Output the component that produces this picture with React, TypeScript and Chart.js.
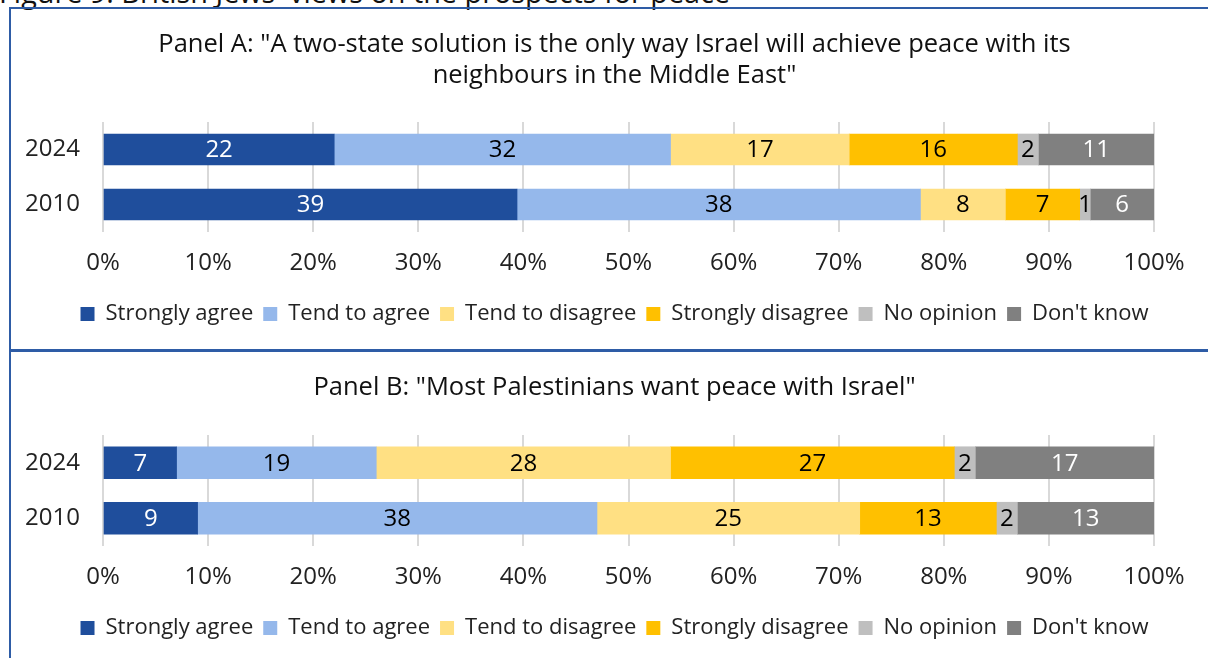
import React, { useEffect, useRef } from 'react';
import { Chart, registerables } from 'chart.js';

Chart.register(...registerables);

// ---------- data ----------
const years = ['2024', '2010'];
const seriesNames = ['Strongly agree', 'Tend to agree', 'Tend to disagree', 'Strongly disagree', 'No opinion', "Don't know"];
const seriesColors = ['#1F4E9C', '#95B8EB', '#FFE083', '#FFC000', '#BFBFBF', '#808080'];
const valueLabelColors = ['#FFFFFF', '#000000', '#000000', '#000000', '#000000', '#FFFFFF'];

const panelA2024 = [22, 32, 17, 16, 2, 11];
const panelA2010 = [39, 38, 8, 7, 1, 6];
const panelB2024 = [7, 19, 28, 27, 2, 17];
const panelB2010 = [9, 38, 25, 13, 2, 13];

const xTickLabels = ['0%', '10%', '20%', '30%', '40%', '50%', '60%', '70%', '80%', '90%', '100%'];

const figureTitle = "Figure 9: British Jews' views on the prospects for peace";
const panelATitle = [
  'Panel A: "A two-state solution is the only way Israel will achieve peace with its',
  'neighbours in the Middle East"',
];
const panelBTitle = ['Panel B: "Most Palestinians want peace with Israel"'];

// ---------- styling ----------
const FONT = '"Open Sans", "Noto Sans", sans-serif';
const BORDER = '#2E5CA6';

const valueLabelPlugin = {
  id: 'valueLabels',
  afterDatasetsDraw(chart: any) {
    const ctx = chart.ctx;
    ctx.save();
    ctx.font = `24px ${FONT}`;
    ctx.textAlign = 'center';
    ctx.textBaseline = 'middle';
    chart.data.datasets.forEach((ds: any, i: number) => {
      const meta = chart.getDatasetMeta(i);
      meta.data.forEach((bar: any, j: number) => {
        const p = bar.getCenterPoint();
        ctx.fillStyle = ds.valueLabelColor;
        ctx.fillText(String(ds.rawValues[j]), p.x, p.y + 1);
      });
    });
    ctx.restore();
  },
};

function buildData(rows: number[][]) {
  const totals = rows.map((r) => r.reduce((a, b) => a + b, 0));
  return {
    labels: years,
    datasets: seriesNames.map((name, i) => ({
      label: name,
      data: rows.map((r, k) => (r[i] / totals[k]) * 100),
      rawValues: rows.map((r) => r[i]),
      valueLabelColor: valueLabelColors[i],
      backgroundColor: seriesColors[i],
      borderWidth: 0,
    })),
  };
}

type PanelProps = {
  rows: number[][];
  title: string[];
  width: number;
  height: number;
  titlePadTop: number;
  titlePadBottom: number;
  bottomPad: number;
  barThickness: number;
};

function Panel(props: PanelProps) {
  const ref = useRef<HTMLCanvasElement | null>(null);
  useEffect(() => {
    if (!ref.current) return;
    const chart = new Chart(ref.current, {
      type: 'bar',
      data: buildData(props.rows) as any,
      plugins: [valueLabelPlugin],
      options: {
        indexAxis: 'y',
        animation: false,
        responsive: false,
        maintainAspectRatio: false,
        datasets: { bar: { barThickness: props.barThickness } },
        layout: { padding: { left: 10, right: 0, top: 0, bottom: props.bottomPad } },
        plugins: {
          tooltip: { enabled: false },
          title: {
            display: true,
            text: props.title,
            color: '#111111',
            font: { family: FONT, size: 25.5, weight: 'normal', lineHeight: 31 / 25.5 },
            padding: { top: props.titlePadTop, bottom: props.titlePadBottom },
          },
          legend: {
            position: 'bottom',
            labels: {
              boxWidth: 14,
              boxHeight: 14,
              padding: 10,
              color: '#222222',
              font: { family: FONT, size: 22 },
            },
          },
        },
        scales: {
          x: {
            type: 'linear',
            stacked: true,
            min: 0,
            max: 100,
            grid: { color: '#D9D9D9', lineWidth: 2, drawTicks: false },
            border: { display: false },
            ticks: {
              stepSize: 10,
              padding: 17,
              color: '#222222',
              font: { family: FONT, size: 24 },
              callback: (_v: any, idx: number) => xTickLabels[idx],
            },
            afterFit: (s: any) => {
              s.height = 61;
            },
          },
          y: {
            type: 'category',
            stacked: true,
            grid: { display: false, drawTicks: false },
            border: { display: false },
            ticks: { padding: 23, color: '#222222', font: { family: FONT, size: 24 } },
            afterFit: (s: any) => {
              s.width = 82;
            },
          },
          yRight: {
            type: 'linear',
            position: 'right',
            display: true,
            grid: { display: false, drawTicks: false },
            border: { display: false },
            ticks: { display: false },
            afterFit: (s: any) => {
              s.width = 54;
            },
          },
        },
      } as any,
    });
    return () => chart.destroy();
  }, []);
  return <canvas ref={ref} width={props.width} height={props.height} style={{ display: 'block' }} />;
}

export default function App() {
  return (
    <div
      style={{
        position: 'fixed',
        left: 0,
        top: 0,
        width: 1208,
        height: 658,
        overflow: 'hidden',
        background: '#FFFFFF',
      }}
    >
      <div
        style={{
          position: 'absolute',
          left: -1,
          top: -22,
          fontFamily: FONT,
          fontSize: 28.8,
          lineHeight: '28.5px',
          color: '#111111',
          whiteSpace: 'nowrap',
        }}
      >
        {figureTitle}
      </div>
      <div
        style={{
          position: 'absolute',
          left: 9,
          top: 7,
          width: 1260,
          height: 700,
          borderLeft: `2px solid ${BORDER}`,
          borderTop: `2px solid ${BORDER}`,
          boxSizing: 'border-box',
        }}
      />
      <div style={{ position: 'absolute', left: 9, top: 349, width: 1260, height: 3, background: BORDER }} />
      <div style={{ position: 'absolute', left: 11, top: 9 }}>
        <Panel
          rows={[panelA2024, panelA2010]}
          title={panelATitle}
          width={1197}
          height={340}
          titlePadTop={20.5}
          titlePadBottom={30.5}
          bottomPad={14}
          barThickness={31}
        />
      </div>
      <div style={{ position: 'absolute', left: 11, top: 352 }}>
        <Panel
          rows={[panelB2024, panelB2010]}
          title={panelBTitle}
          width={1197}
          height={306}
          titlePadTop={20.5}
          titlePadBottom={31.5}
          bottomPad={9}
          barThickness={32}
        />
      </div>
    </div>
  );
}
